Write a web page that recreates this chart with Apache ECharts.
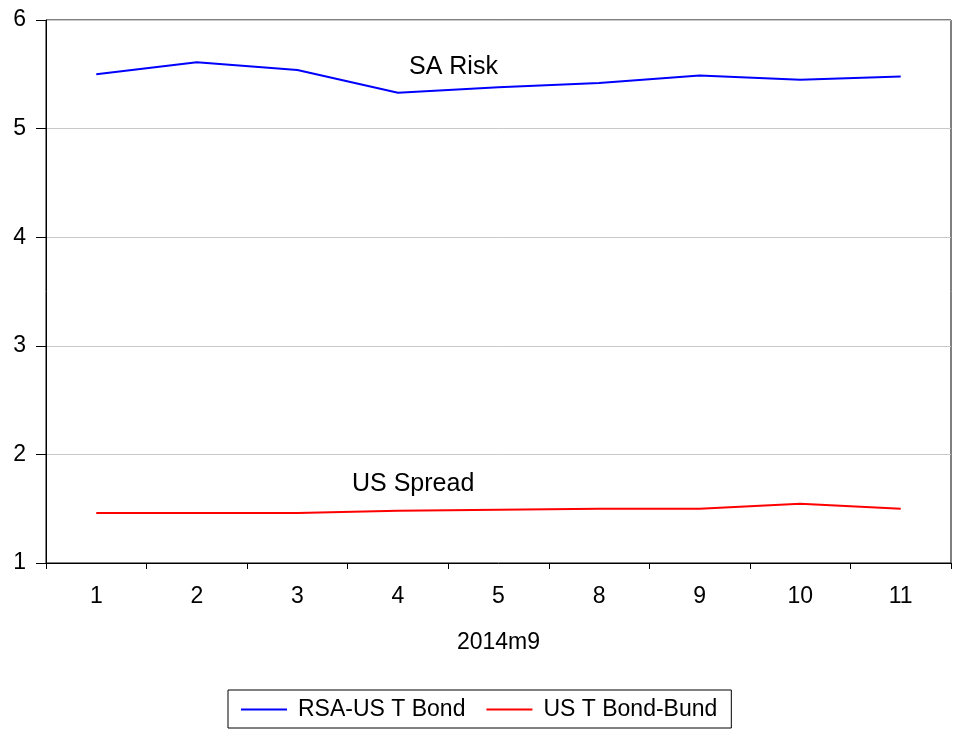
<!DOCTYPE html>
<html>
<head>
<meta charset="utf-8">
<script src="https://cdn.jsdelivr.net/npm/echarts@6/dist/echarts.min.js"></script>
<style>html,body{margin:0;padding:0;background:#fff;}#c{width:954px;height:729px;}</style>
</head>
<body>
<div id="c"></div>
<script>
var categories = ['1', '2', '3', '4', '5', '8', '9', '10', '11'];
var rsaUsTBond = [5.50, 5.61, 5.54, 5.33, 5.38, 5.42, 5.49, 5.45, 5.48];
var usTBondBund = [1.46, 1.46, 1.46, 1.48, 1.49, 1.50, 1.50, 1.545, 1.50];
var yTicks = { min: 1, max: 6, interval: 1 };
var xAxisName = '2014m9';
var seriesNames = ['RSA-US T Bond', 'US T Bond-Bund'];
var annotations = ['SA Risk', 'US Spread'];

var FONT = 'Liberation Sans, Arial, sans-serif';
var chart = echarts.init(document.getElementById('c'), null, { renderer: 'canvas' });
chart.setOption({
  animation: false,
  backgroundColor: '#fff',
  grid: { left: 46, right: 3, top: 20, bottom: 166, show: true, borderColor: '#000', borderWidth: 1, containLabel: false },
  xAxis: {
    type: 'category',
    data: categories,
    boundaryGap: true,
    name: xAxisName,
    nameLocation: 'middle',
    nameGap: 68,
    nameTextStyle: { color: '#000', fontSize: 23, fontFamily: FONT },
    axisLine: { show: true, lineStyle: { color: '#000', width: 1 } },
    axisTick: { show: true, length: 6, lineStyle: { color: '#000' } },
    axisLabel: { color: '#000', fontSize: 23, fontFamily: FONT, margin: 22 },
    splitLine: { show: false }
  },
  yAxis: {
    type: 'value',
    min: yTicks.min, max: yTicks.max, interval: yTicks.interval,
    axisLine: { show: true, lineStyle: { color: '#000', width: 1 } },
    axisTick: { show: true, length: 10, lineStyle: { color: '#000' } },
    axisLabel: { color: '#000', fontSize: 23, fontFamily: FONT, margin: 20 },
    splitLine: { show: true, lineStyle: { color: '#c8c8c8', width: 1 } }
  },
  legend: {
    data: seriesNames,
    bottom: 1,
    left: 228,
    orient: 'horizontal',
    icon: 'rect',
    itemWidth: 46,
    itemHeight: 2,
    itemGap: 21,
    borderColor: '#000',
    borderWidth: 1,
    padding: [8, 14, 7, 13],
    textStyle: { color: '#000', fontSize: 23, fontFamily: FONT, padding: [0, 0, 0, 6] }
  },
  graphic: [
    { type: 'text', left: 409, top: 55, style: { text: annotations[0], fill: '#000', font: '25px ' + FONT } },
    { type: 'text', left: 352, top: 472, style: { text: annotations[1], fill: '#000', font: '25px ' + FONT } }
  ],
  series: [
    { name: seriesNames[0], type: 'line', data: rsaUsTBond, symbol: 'none', lineStyle: { color: '#0000ff', width: 2 }, itemStyle: { color: '#0000ff' } },
    { name: seriesNames[1], type: 'line', data: usTBondBund, symbol: 'none', lineStyle: { color: '#ff0000', width: 2 }, itemStyle: { color: '#ff0000' } }
  ]
});
</script>
</body>
</html>
